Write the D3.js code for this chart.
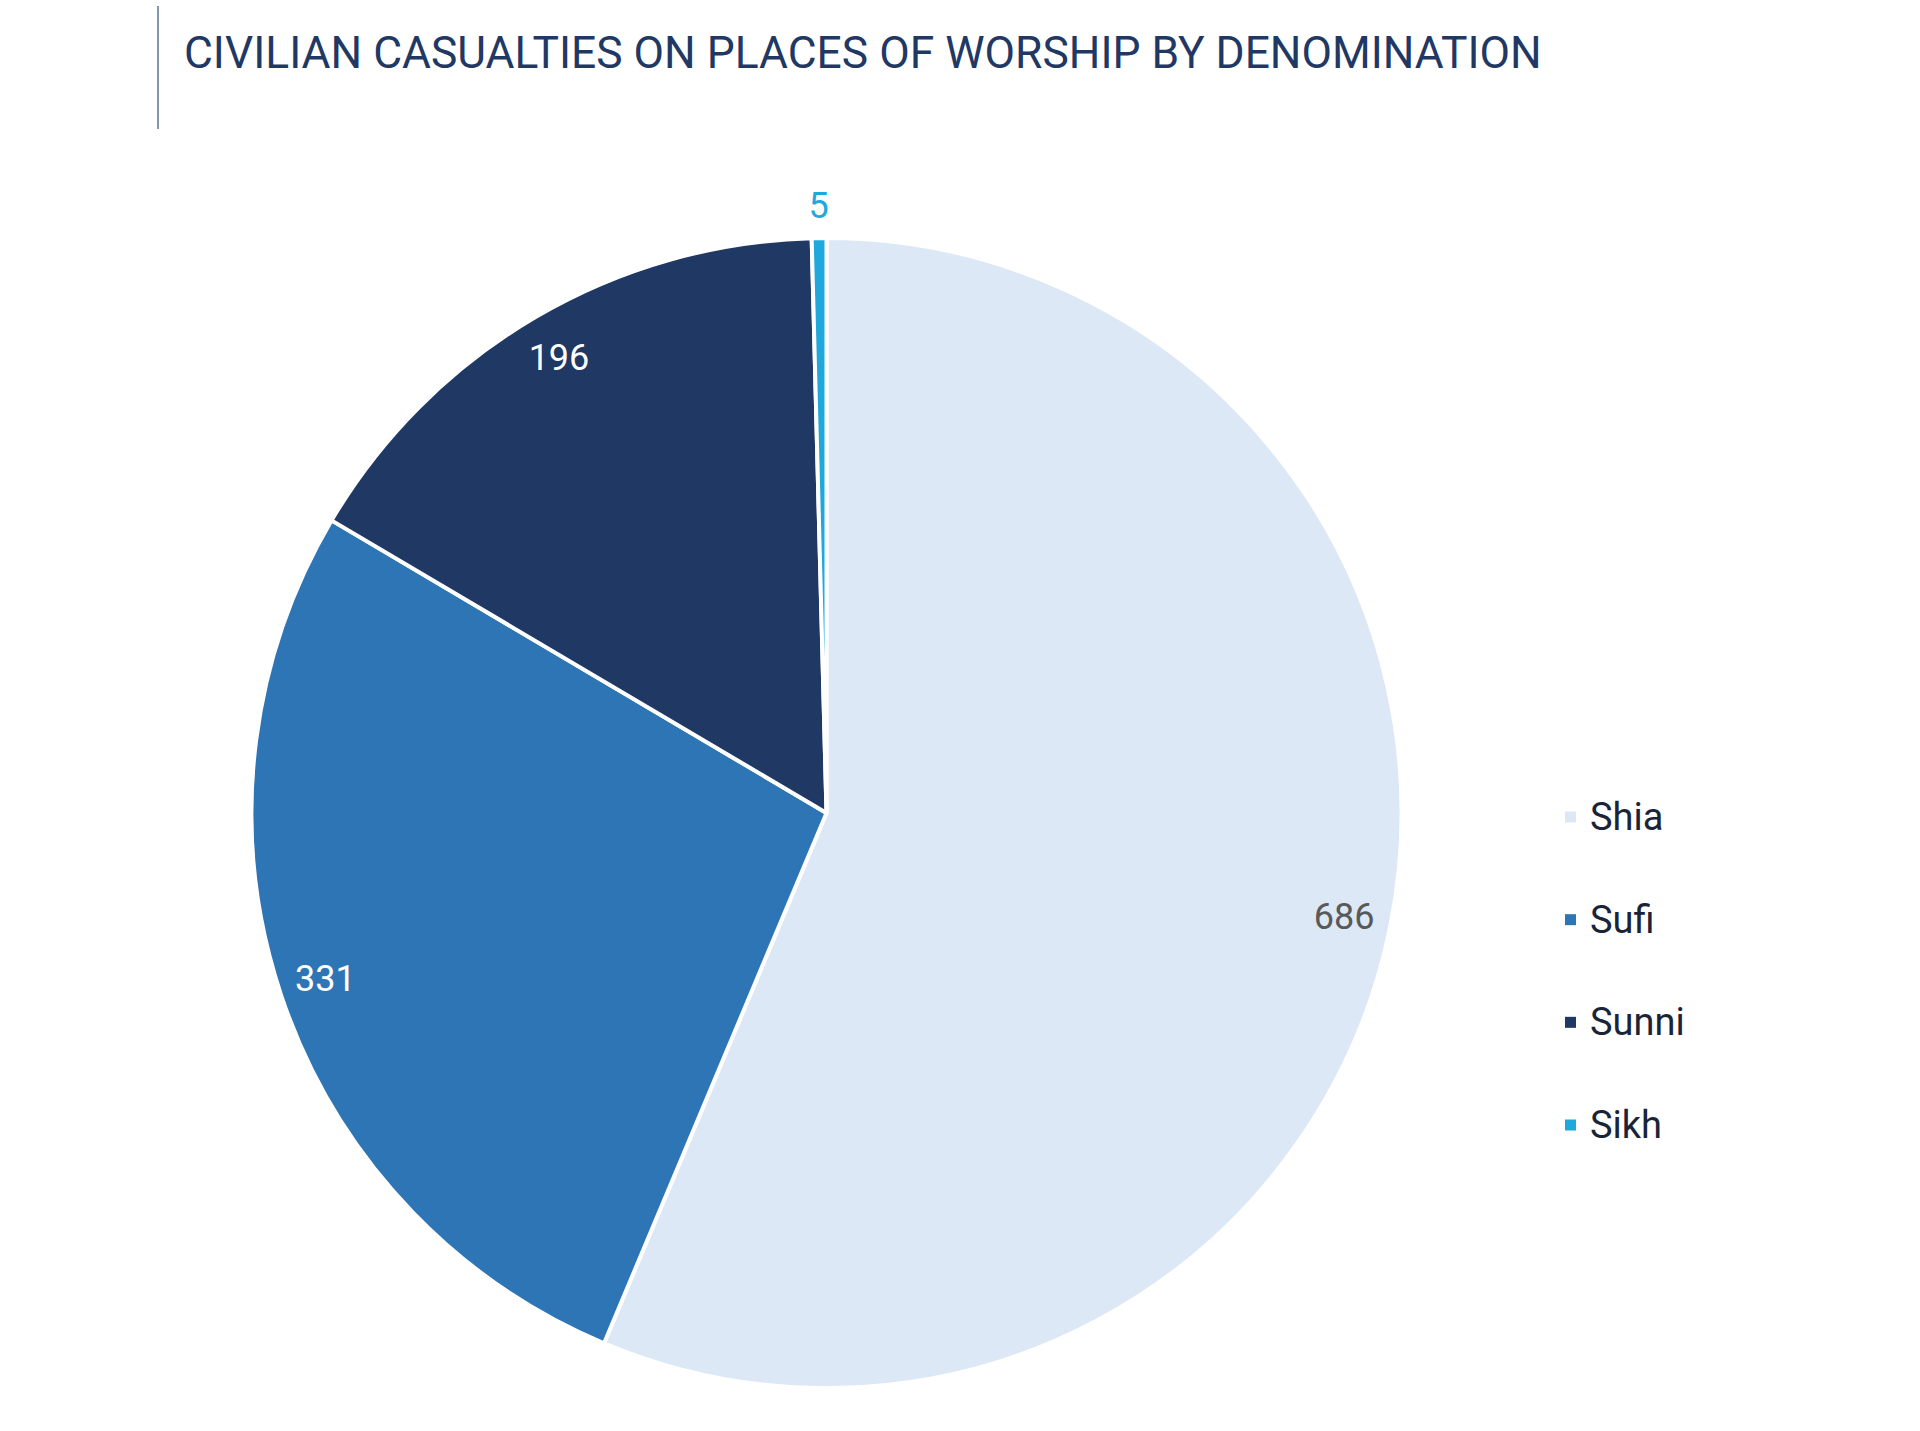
<!DOCTYPE html>
<html><head><meta charset="utf-8">
<script src="https://cdn.jsdelivr.net/npm/d3@7"></script>
<style>
html,body{margin:0;padding:0;background:#fff;}
svg{display:block;font-family:Roboto, "Noto Sans", sans-serif;}
</style></head>
<body>
<svg id="chart" width="1920" height="1431"></svg>
<script>
const title = "CIVILIAN CASUALTIES ON PLACES OF WORSHIP BY DENOMINATION";
const categories = ["Shia", "Sufi", "Sunni", "Sikh"];
const values = [686, 331, 196, 5];
const colors = ["#dce8f5", "#2e75b6", "#1f3864", "#1fa8dc"];
const labelColors = ["#595959", "#ffffff", "#ffffff", "#1fa8dc"];

const svg = d3.select("#chart");
const cx = 826.5, cy = 813, r = 575;

// title bar
svg.append("line").attr("x1",158).attr("x2",158).attr("y1",6).attr("y2",129)
  .attr("stroke","#8497b0").attr("stroke-width",2);
const t = svg.append("text").attr("x",184).attr("y",68)
  .attr("fill","#1f3864").attr("font-size",40).text(title);
const tw = t.node().getComputedTextLength();
t.attr("font-size", 40 * 1358 / tw);

const data = categories.map((c,i)=>({cat:c, value:values[i], i}));
const pie = d3.pie().value(d=>d.value).sort(null);
const arcs = pie(data);
const arc = d3.arc().innerRadius(0).outerRadius(r);
const labelArc = d3.arc().innerRadius(528).outerRadius(528);
const outArc = d3.arc().innerRadius(607).outerRadius(607);

const g = svg.append("g").attr("transform",`translate(${cx},${cy})`);
g.selectAll("path").data(arcs).join("path")
  .attr("d",arc).attr("fill",d=>colors[d.data.i])
  .attr("stroke","#fff").attr("stroke-width",4).attr("stroke-linejoin","round");

g.selectAll("text.lbl").data(arcs).join("text").attr("class","lbl")
  .attr("transform",d=>{
    const p = (d.data.value/d3.sum(values) < 0.02 ? outArc : labelArc).centroid(d);
    return `translate(${p[0]},${p[1]})`;
  })
  .attr("text-anchor","middle").attr("dominant-baseline","central")
  .attr("font-size",36).attr("fill",d=>labelColors[d.data.i])
  .text(d=>d.data.value);

// legend
const leg = svg.append("g");
const ly = d3.scalePoint().domain(categories).range([817,1125]);
categories.forEach((c,i)=>{
  leg.append("rect").attr("x",1565).attr("y",ly(c)-5.5).attr("width",11).attr("height",11)
    .attr("fill",colors[i]);
  leg.append("text").attr("x",1590).attr("y",ly(c)).attr("dominant-baseline","central")
    .attr("font-size",38).attr("fill","#1a2438").text(c);
});
</script>
</body></html>
